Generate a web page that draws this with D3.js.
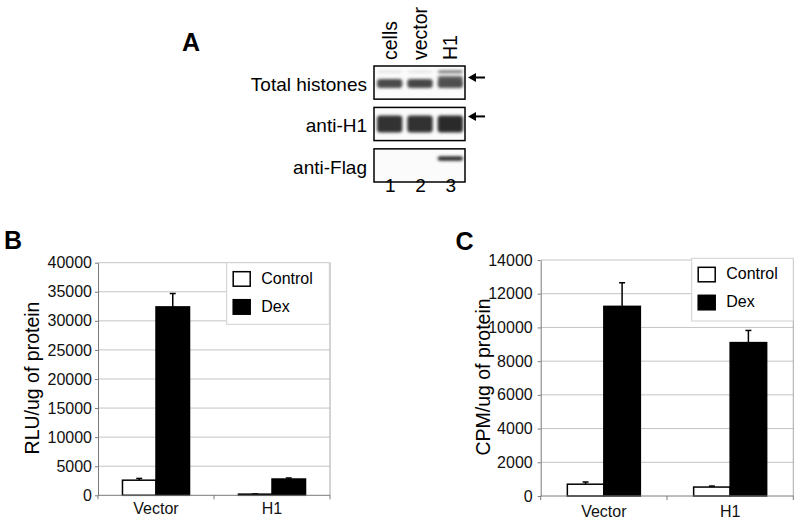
<!DOCTYPE html>
<html>
<head>
<meta charset="utf-8">
<script src="https://cdn.jsdelivr.net/npm/d3@7"></script>
<style>
  body { margin: 0; background: #fff; }
  svg { display: block; font-family: "Liberation Sans", Arial, sans-serif; }
  .grid line { stroke: #c4c4c4; stroke-width: 1; }
  .axis path, .axis line { stroke: #7a7a7a; }
  .axis text { fill: #111; font-size: 16px; }
</style>
</head>
<body>
<div id="chart"></div>
<script>
// ---- panel A: western blot ----
const lanes = ["cells", "vector", "H1"];
const laneNumbers = ["1", "2", "3"];
const blotRows = ["Total histones", "anti-H1", "anti-Flag"];
// band darkness per lane (0 = nothing)
const histoneMain = [0.8, 0.82, 0.78];
const histoneUpper = [0.12, 0.12, 0.7];
const h1Signal = [0.92, 0.92, 0.95];
const flagSignal = [0, 0, 0.95];
const arrowRows = ["Total histones", "anti-H1"];

// ---- panels B and C: bar charts ----
const groups = ["Vector", "H1"];
const series = ["Control", "Dex"];

const rluControl = [2600, 200];
const rluControlErr = [300, 30];
const rluDex = [32400, 2800];
const rluDexErr = [2300, 180];
const rluTicks = [0, 5000, 10000, 15000, 20000, 25000, 30000, 35000, 40000];

const cpmControl = [700, 530];
const cpmControlErr = [130, 60];
const cpmDex = [11250, 9100];
const cpmDexErr = [1400, 720];
const cpmTicks = [0, 2000, 4000, 6000, 8000, 10000, 12000, 14000];

const width = 800, height = 523;

const svg = d3.select("#chart").append("svg")
  .attr("width", width)
  .attr("height", height)
  .attr("viewBox", [0, 0, width, height]);

svg.append("defs").append("filter")
  .attr("id", "blur")
  .attr("x", "-20%").attr("y", "-80%")
  .attr("width", "140%").attr("height", "260%")
  .append("feGaussianBlur")
  .attr("stdDeviation", "1.6 1.4");

function panelLetter(text, x, y) {
  svg.append("text")
    .attr("x", x).attr("y", y)
    .attr("font-size", 25)
    .attr("font-weight", "bold")
    .text(text);
}

function drawBlot() {
  const g = svg.append("g");
  const lane = d3.scaleBand().domain(lanes).range([374, 465]);
  const row = d3.scaleBand().domain(blotRows).range([66, 182]).paddingInner(0.2).paddingOuter(0);
  const shade = d3.scaleLinear().domain([0, 1]).range(["#ffffff", "#1e1e1e"]);

  panelLetter("A", 182, 51);

  // lane names, rotated
  g.append("g").selectAll("text")
    .data(lanes)
    .join("text")
    .attr("transform", d => `translate(${lane(d) + lane.bandwidth() / 2 + 7.5},60) rotate(-90)`)
    .attr("font-size", 19.5)
    .text(d => d);

  // row labels
  g.append("g").selectAll("text")
    .data(blotRows)
    .join("text")
    .attr("x", 367)
    .attr("y", d => row(d) + 25)
    .attr("text-anchor", "end")
    .attr("font-size", 19)
    .text(d => d);

  const boxes = g.append("g").selectAll("g")
    .data(blotRows)
    .join("g")
    .attr("transform", d => `translate(0,${row(d)})`);

  boxes.append("rect")
    .attr("x", lane.range()[0])
    .attr("width", lane.range()[1] - lane.range()[0])
    .attr("height", row.bandwidth())
    .attr("fill", "#fbfbfb");

  const bh = row.bandwidth();
  const bandSets = {
    "Total histones": [
      { vals: histoneUpper, y: 4.5, h: 2.5 },
      { vals: histoneUpper.map((v, i) => i === 2 ? v : 0), y: 10, h: 4 },
      { vals: histoneMain, y: 13, h: 9 }
    ],
    "anti-H1": [
      { vals: h1Signal, y: 8, h: 17 }
    ],
    "anti-Flag": [
      { vals: flagSignal, y: 7.5, h: 4.5 }
    ]
  };

  boxes.each(function (r) {
    const sel = d3.select(this).append("g").attr("filter", "url(#blur)");
    bandSets[r].forEach(set => {
      sel.selectAll(null)
        .data(lanes.map((l, i) => ({ l, v: set.vals[i] })).filter(d => d.v > 0))
        .join("rect")
        .attr("x", d => lane(d.l) + 3)
        .attr("width", lane.bandwidth() - 5)
        .attr("y", set.y)
        .attr("height", set.h)
        .attr("rx", 3)
        .attr("fill", d => shade(d.v));
    });
  });

  boxes.append("rect")
    .attr("x", lane.range()[0])
    .attr("width", lane.range()[1] - lane.range()[0])
    .attr("height", bh)
    .attr("fill", "none")
    .attr("stroke", "#000")
    .attr("stroke-width", 1.5);

  // arrows
  const arrow = g.append("g").selectAll("g")
    .data(arrowRows)
    .join("g")
    .attr("transform", (d, i) => `translate(468,${row(d) + (i === 0 ? 11.5 : 9)})`);
  arrow.append("line")
    .attr("x1", 6).attr("x2", 17)
    .attr("stroke", "#000").attr("stroke-width", 2);
  arrow.append("path")
    .attr("d", "M0,0L8,-4.5L8,4.5Z")
    .attr("fill", "#000");

  // lane numbers
  g.append("g").selectAll("text")
    .data(laneNumbers)
    .join("text")
    .attr("x", (d, i) => lane(lanes[i]) + lane.bandwidth() / 2 + 1)
    .attr("y", 192)
    .attr("text-anchor", "middle")
    .attr("font-size", 19)
    .text(d => d);
}

function drawBars({ left, right, top, bottom, ticks, control, controlErr, dex, dexErr,
                    title, titleX, letter, letterPos, legendBox, tickPad, labelY }) {
  const g = svg.append("g");
  const rows = groups.map((grp, i) => ({
    grp,
    bars: [
      { s: "Control", v: control[i], e: controlErr[i] },
      { s: "Dex", v: dex[i], e: dexErr[i] }
    ]
  }));

  const x0 = d3.scaleBand().domain(groups).range([left, right]);
  const x1 = d3.scaleBand().domain(series).range([0, x0.bandwidth()]).paddingOuter(0.73);
  const y = d3.scaleLinear().domain([0, d3.max(ticks)]).range([bottom, top]);
  const fill = d3.scaleOrdinal().domain(series).range(["#fff", "#000"]);

  panelLetter(letter, letterPos[0], letterPos[1]);

  // gridlines
  g.append("g").attr("class", "grid")
    .selectAll("line")
    .data(ticks.filter(d => d > 0))
    .join("line")
    .attr("x1", left).attr("x2", right)
    .attr("y1", d => y(d)).attr("y2", d => y(d));
  g.append("line")
    .attr("x1", right).attr("x2", right)
    .attr("y1", top).attr("y2", bottom)
    .attr("stroke", "#a8a8a8");

  // bars
  const grp = g.append("g").selectAll("g")
    .data(rows)
    .join("g")
    .attr("transform", d => `translate(${x0(d.grp)},0)`);

  grp.selectAll("rect")
    .data(d => d.bars)
    .join("rect")
    .attr("x", d => x1(d.s))
    .attr("width", x1.bandwidth())
    .attr("y", d => y(d.v))
    .attr("height", d => bottom - y(d.v))
    .attr("fill", d => fill(d.s))
    .attr("stroke", "#000")
    .attr("stroke-width", 1.5);

  // error bars (upper only)
  const err = grp.selectAll("g.err")
    .data(d => d.bars)
    .join("g")
    .attr("class", "err")
    .attr("transform", d => `translate(${x1(d.s) + x1.bandwidth() / 2},0)`);
  err.append("line")
    .attr("y1", d => y(d.v)).attr("y2", d => y(d.v + d.e))
    .attr("stroke", "#000").attr("stroke-width", 1.5);
  err.append("line")
    .attr("x1", -3).attr("x2", 3)
    .attr("y1", d => y(d.v + d.e)).attr("y2", d => y(d.v + d.e))
    .attr("stroke", "#000").attr("stroke-width", 1.5);

  // y axis
  g.append("g").attr("class", "axis")
    .attr("transform", `translate(${left},0)`)
    .call(d3.axisLeft(y).tickValues(ticks).tickSize(3).tickSizeOuter(0)
      .tickPadding(tickPad).tickFormat(d3.format("d")));

  // x axis: line, boundary ticks, category labels
  const xa = g.append("g").attr("class", "axis");
  xa.append("line")
    .attr("x1", left).attr("x2", right)
    .attr("y1", bottom).attr("y2", bottom);
  xa.selectAll("line.tk")
    .data([...groups.map(d => x0(d)), right])
    .join("line")
    .attr("class", "tk")
    .attr("x1", d => d).attr("x2", d => d)
    .attr("y1", bottom).attr("y2", bottom + 4);
  xa.selectAll("text")
    .data(groups)
    .join("text")
    .attr("x", d => x0(d) + x0.bandwidth() / 2)
    .attr("y", labelY)
    .attr("text-anchor", "middle")
    .text(d => d);

  // y title
  g.append("text")
    .attr("transform", `translate(${titleX},${(top + bottom) / 2 - 1}) rotate(-90)`)
    .attr("text-anchor", "middle")
    .attr("font-size", 19.5)
    .text(title);

  // legend
  const [lx, ly, lw, lh] = legendBox;
  const leg = g.append("g").attr("transform", `translate(${lx},${ly})`);
  leg.append("rect")
    .attr("width", lw).attr("height", lh)
    .attr("fill", "#fff")
    .attr("stroke", "#cfcfcf");
  const item = leg.selectAll("g")
    .data(series)
    .join("g")
    .attr("transform", (d, i) => `translate(6.5,${9 + i * 28})`);
  item.append("rect")
    .attr("width", 17).attr("height", 14.5)
    .attr("fill", d => fill(d))
    .attr("stroke", "#000")
    .attr("stroke-width", 1.5);
  item.append("text")
    .attr("x", 28).attr("y", 12)
    .attr("font-size", 16)
    .text(d => d);
}

drawBlot();

drawBars({
  left: 98, right: 330, top: 262.7, bottom: 495.3,
  ticks: rluTicks, control: rluControl, controlErr: rluControlErr,
  dex: rluDex, dexErr: rluDexErr,
  title: "RLU/ug of protein", titleX: 39,
  letter: "B", letterPos: [4, 248.5],
  legendBox: [226.7, 262.7, 102.6, 61.6],
  tickPad: 3, labelY: 513.5
});

drawBars({
  left: 540.7, right: 793.3, top: 260, bottom: 496,
  ticks: cpmTicks, control: cpmControl, controlErr: cpmControlErr,
  dex: cpmDex, dexErr: cpmDexErr,
  title: "CPM/ug of protein", titleX: 490,
  letter: "C", letterPos: [455.5, 250],
  legendBox: [691.7, 258.3, 101.6, 62.7],
  tickPad: 5, labelY: 516.5
});
</script>
</body>
</html>
